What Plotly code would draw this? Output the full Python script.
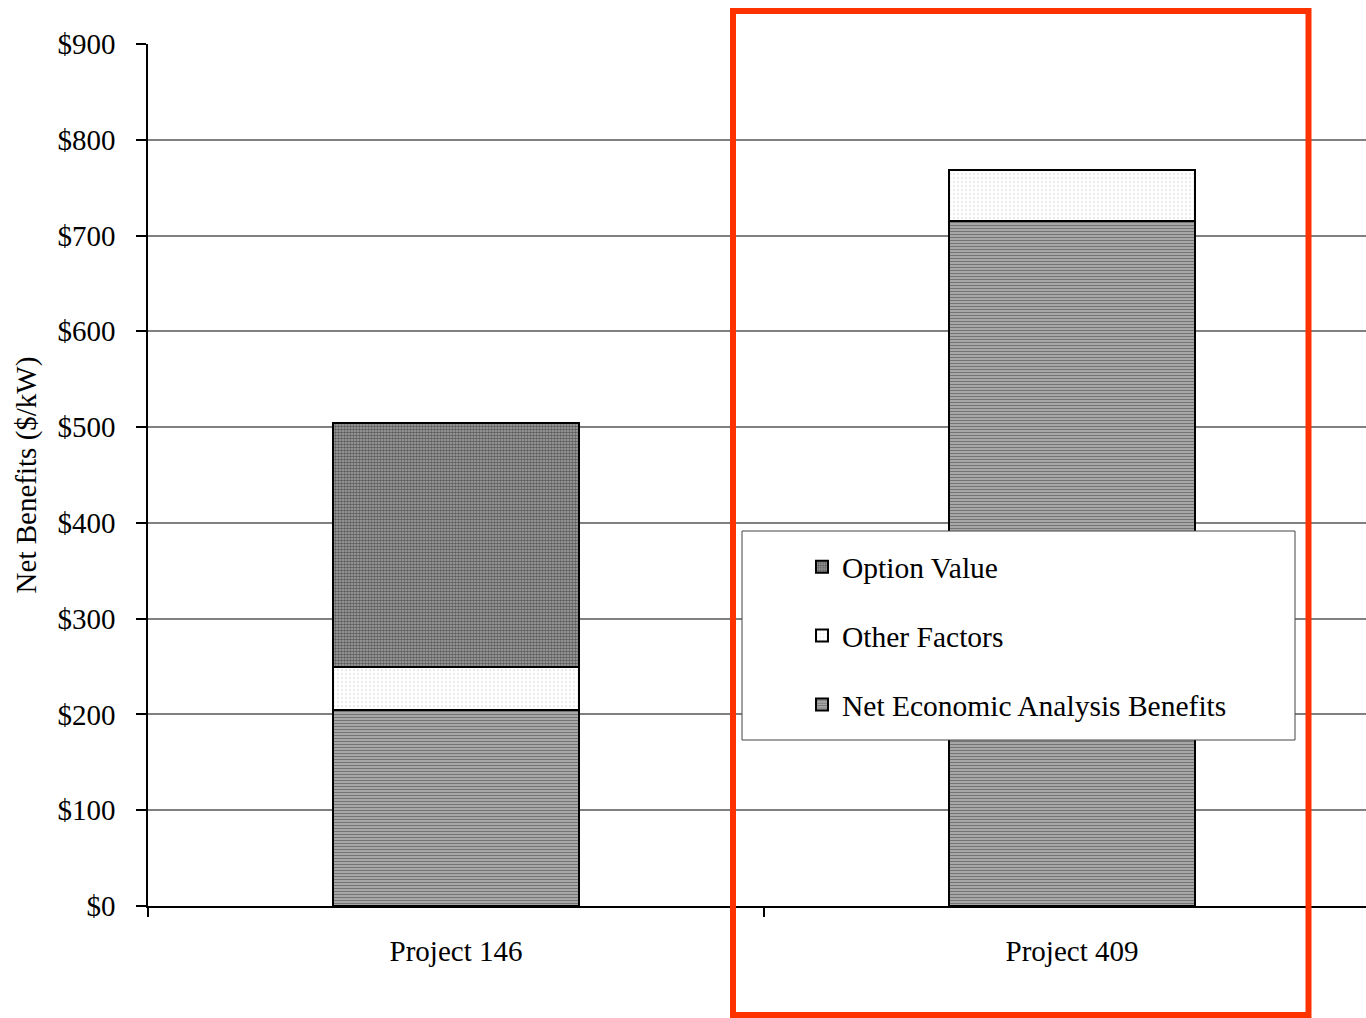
import plotly.graph_objects as go

categories = ["Project 146", "Project 409"]
net_economic = [205, 715]
other_factors = [45, 53]
option_value = [254, 0]
y_tickvals = [0, 100, 200, 300, 400, 500, 600, 700, 800, 900]
y_ticktext = ["$0", "$100", "$200", "$300", "$400", "$500", "$600", "$700", "$800", "$900"]

FONT = "Liberation Serif, Times New Roman, serif"

fig = go.Figure()
fig.add_trace(go.Bar(
    name="Net Economic Analysis Benefits", x=categories, y=net_economic, width=0.4,
    legendgroup="a", legendrank=3,
    marker=dict(color="#909090", line=dict(color="black", width=2),
                pattern=dict(shape="-", fgcolor="#303030", bgcolor="#b8b8b8", size=3, solidity=0.5)),
))
fig.add_trace(go.Bar(
    name="Other Factors", x=categories, y=other_factors, width=0.4,
    legendgroup="b", legendrank=2,
    marker=dict(color="white", line=dict(color="black", width=2),
                pattern=dict(shape=".", fgcolor="#d4d4d4", bgcolor="white", size=4, solidity=0.25)),
))
fig.add_trace(go.Bar(
    name="Option Value", x=categories, y=option_value, width=0.4,
    legendgroup="c", legendrank=1,
    marker=dict(color="#606060", line=dict(color="black", width=2),
                pattern=dict(shape=".", fgcolor="#101010", bgcolor="#a8a8a8", size=3, solidity=0.6)),
))

W, H = 1366, 1018
L, R, T, B = 148, 0, 44, 112
pw, ph = W - L - R, H - T - B


def px(x):
    return (x - L) / pw


def py(y):
    return (H - B - y) / ph


fig.update_layout(
    width=W, height=H, barmode="stack",
    margin=dict(l=L, r=R, t=T, b=B),
    paper_bgcolor="white", plot_bgcolor="white",
    font=dict(family=FONT, size=29, color="black"),
    showlegend=True,
    legend=dict(x=px(802), y=py(541), xanchor="left", yanchor="top",
                bgcolor="rgba(0,0,0,0)", borderwidth=0,
                traceorder="grouped", tracegroupgap=27.5,
                font=dict(family=FONT, size=29.5, color="black")),
    shapes=[
        dict(type="rect", xref="paper", yref="paper",
             x0=px(742), x1=px(1295), y0=py(740), y1=py(531),
             fillcolor="white", line=dict(color="#444444", width=1), layer="above"),
        dict(type="rect", xref="paper", yref="paper",
             x0=px(733), x1=px(1308.5), y0=py(1015), y1=py(11),
             fillcolor="rgba(0,0,0,0)", line=dict(color="#ff3300", width=6), layer="above"),
    ],
)
fig.update_xaxes(
    type="category", range=[-0.5, -0.5 + pw / 616], tickson="boundaries",
    showline=True, linecolor="black", linewidth=1.5,
    ticks="outside", ticklen=9, tickcolor="black", tickwidth=1.5,
    showgrid=False, ticklabelstandoff=18,
    tickfont=dict(family=FONT, size=29, color="black"),
)
fig.update_yaxes(
    range=[0, 900], tickvals=y_tickvals, ticktext=y_ticktext,
    showline=True, linecolor="black", linewidth=1.5,
    ticks="outside", ticklen=10, tickcolor="black", tickwidth=1.5,
    showgrid=True, gridcolor="#808080", gridwidth=1.5, zeroline=False,
    ticklabelstandoff=15,
    tickfont=dict(family=FONT, size=29, color="black"),
    title=dict(text="Net Benefits ($/kW)", font=dict(family=FONT, size=29, color="black"), standoff=12),
)

fig.write_html("out.html")
